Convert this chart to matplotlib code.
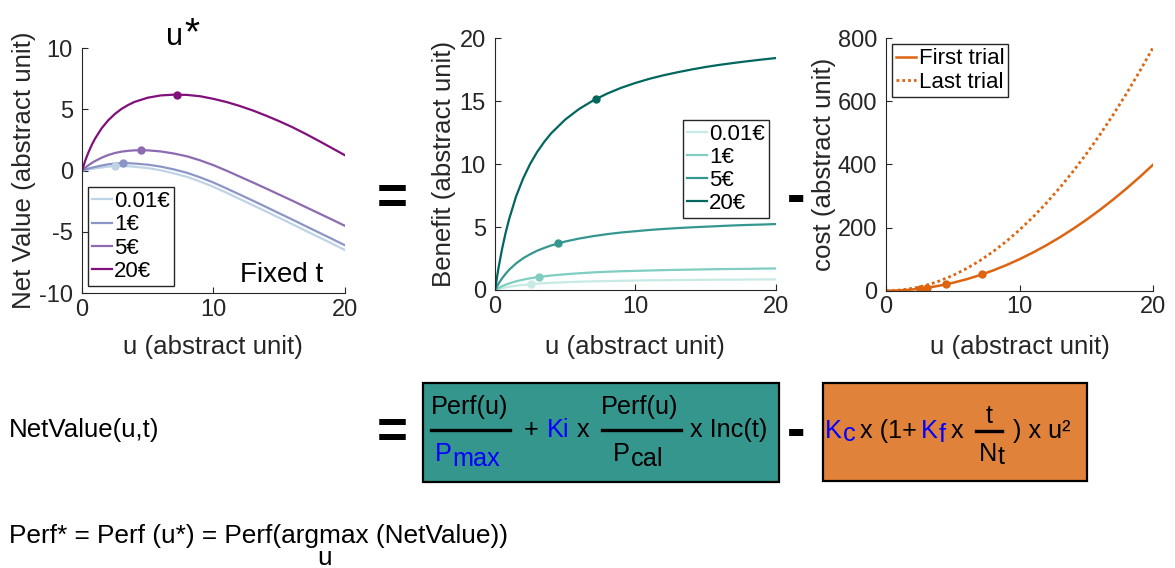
import matplotlib
matplotlib.use('Agg')
import matplotlib.pyplot as plt
from matplotlib.lines import Line2D
from matplotlib.patches import Rectangle

plt.rcParams['font.family'] = ['Liberation Sans', 'DejaVu Sans']
plt.rcParams['axes.unicode_minus'] = False

W, H = 1175, 568

# effort grid
u = [0, 0.25, 0.5, 0.75, 1, 1.5, 2, 2.5, 3, 3.5, 4, 5, 6, 7, 8, 9, 10,
     11, 12, 13, 14, 15, 16, 17, 18, 19, 20]
rewards = ['0.01€', '1€', '5€', '20€']

# net value, fixed t
net_001 = [0, 0.05, 0.10, 0.15, 0.19, 0.26, 0.33, 0.37, 0.37, 0.36, 0.32, 0.21, 0.03, -0.22, -0.51, -0.89, -1.32,
           -1.80, -2.31, -2.82, -3.33, -3.85, -4.37, -4.90, -5.42, -5.94, -6.48]
net_1 = [0, 0.09, 0.17, 0.24, 0.30, 0.42, 0.52, 0.58, 0.61, 0.61, 0.58, 0.49, 0.33, 0.10, -0.18, -0.55, -0.97,
         -1.45, -1.95, -2.45, -2.96, -3.48, -3.99, -4.52, -5.04, -5.56, -6.09]
net_5 = [0, 0.24, 0.45, 0.63, 0.79, 1.06, 1.28, 1.44, 1.55, 1.62, 1.66, 1.66, 1.57, 1.40, 1.17, 0.84, 0.45,
         0.00, -0.48, -0.96, -1.45, -1.95, -2.45, -2.96, -3.47, -3.98, -4.50]
net_20 = [0, 0.83, 1.52, 2.12, 2.63, 3.47, 4.12, 4.63, 5.04, 5.36, 5.62, 5.96, 6.15, 6.21, 6.19, 6.08, 5.87,
          5.61, 5.29, 4.92, 4.50, 4.05, 3.56, 3.02, 2.45, 1.86, 1.27]

# benefit
ben_001 = [0, 0.08, 0.15, 0.21, 0.26, 0.34, 0.40, 0.46, 0.50, 0.54, 0.57, 0.62, 0.66, 0.69, 0.71, 0.73, 0.75,
           0.77, 0.78, 0.79, 0.80, 0.81, 0.82, 0.82, 0.83, 0.84, 0.84]
ben_1 = [0, 0.16, 0.30, 0.42, 0.52, 0.69, 0.82, 0.93, 1.02, 1.09, 1.15, 1.25, 1.33, 1.40, 1.45, 1.49, 1.52,
         1.55, 1.58, 1.60, 1.62, 1.64, 1.66, 1.67, 1.68, 1.70, 1.71]
ben_5 = [0, 0.50, 0.92, 1.28, 1.60, 2.11, 2.52, 2.84, 3.12, 3.34, 3.54, 3.85, 4.09, 4.28, 4.44, 4.57, 4.67,
         4.77, 4.85, 4.92, 4.98, 5.03, 5.08, 5.13, 5.17, 5.20, 5.24]
ben_20 = [0, 1.76, 3.24, 4.51, 5.61, 7.43, 8.85, 10.01, 10.96, 11.76, 12.45, 13.54, 14.39, 15.06, 15.61, 16.07, 16.45,
          16.78, 17.06, 17.30, 17.52, 17.72, 17.89, 18.04, 18.18, 18.31, 18.43]

# cost
cost_first = [0, 0.06, 0.25, 0.56, 1, 2.25, 4, 6.25, 9, 12.25, 16, 25, 36, 49, 64, 81, 100,
              121, 144, 169, 196, 225, 256, 289, 324, 361, 400]
cost_last = [0, 0.12, 0.48, 1.09, 1.93, 4.34, 7.72, 12.06, 17.37, 23.64, 30.88, 48.25, 69.48, 94.57, 123.5, 156.3, 193.0,
             233.5, 277.9, 326.2, 378.3, 434.3, 494.1, 557.8, 625.3, 696.7, 772.0]

# optimum u* per reward
u_star = [2.54, 3.1, 4.5, 7.2]
net_star = [0.37, 0.61, 1.67, 6.21]
ben_star = [0.46, 1.03, 3.70, 15.18]
cost_star = [6.45, 9.61, 20.25, 51.84]

net_cols = ['#bfd3e6', '#8c96c6', '#8c6bb1', '#810f7c']
ben_cols = ['#c7eae5', '#80cdc1', '#35978f', '#01665e']
orange = '#dd6410'
grey = '#262626'


def px(x, y):
    return x / W, 1 - y / H


def style(ax, ylim, yticks):
    ax.set_xlim(0, 20)
    ax.set_ylim(*ylim)
    ax.set_xticks([0, 10, 20])
    ax.set_yticks(yticks)
    for s in ['top', 'right']:
        ax.spines[s].set_visible(False)
    for s in ['left', 'bottom']:
        ax.spines[s].set_color(grey)
        ax.spines[s].set_linewidth(0.8)
    ax.tick_params(direction='in', length=4, width=0.8, colors=grey, labelsize=17)
    ax.tick_params(axis='x', pad=4)
    ax.tick_params(axis='y', pad=6.5)


def legend(ax, **kw):
    lg = ax.legend(fontsize=16, handlelength=0.9, handletextpad=0.1, borderpad=0.18,
                   labelspacing=0.1, borderaxespad=0, fancybox=False, framealpha=1, **kw)
    lg.get_frame().set_edgecolor(grey)
    lg.get_frame().set_linewidth(1.0)
    return lg


fig = plt.figure(figsize=(W / 100, H / 100), dpi=100)

# net value panel
ax1 = fig.add_axes([82 / W, 1 - 293 / H, 262.7 / W, 244.7 / H])
for vals, c, lab in zip([net_001, net_1, net_5, net_20], net_cols, rewards):
    ax1.plot(u, vals, color=c, lw=1.6, label=lab)
for us, v, c in zip(u_star, net_star, net_cols):
    ax1.plot(us, v, 'o', color=c, ms=5)
style(ax1, (-10, 10), [-10, -5, 0, 5, 10])
ax1.set_xlabel('u (abstract unit)', fontsize=18.6, color=grey)
ax1.set_ylabel('Net Value (abstract unit)', fontsize=18.6, color=grey)
ax1.xaxis.set_label_coords(0.5, -0.172)
ax1.yaxis.set_label_coords((36 - 82) / 262.7, 0.5)
legend(ax1, loc='lower left', bbox_to_anchor=(0.022, 0.029))
ax1.text(0.601, 0.044, 'Fixed t', transform=ax1.transAxes, fontsize=20, va='baseline')

# benefit panel
ax2 = fig.add_axes([495 / W, 1 - 290 / H, 280.7 / W, 251.7 / H])
for vals, c, lab in zip([ben_001, ben_1, ben_5, ben_20], ben_cols, rewards):
    ax2.plot(u, vals, color=c, lw=1.6, label=lab)
for us, v, c in zip(u_star, ben_star, ben_cols):
    ax2.plot(us, v, 'o', color=c, ms=5)
style(ax2, (0, 20), [0, 5, 10, 15, 20])
ax2.set_xlabel('u (abstract unit)', fontsize=18.6, color=grey)
ax2.set_ylabel('Benefit (abstract unit)', fontsize=18.6, color=grey)
ax2.xaxis.set_label_coords(0.5, -0.179)
ax2.yaxis.set_label_coords((456 - 495) / 280.7, 0.5)
legend(ax2, loc='lower right', bbox_to_anchor=(0.976, 0.285))

# cost panel
ax3 = fig.add_axes([886 / W, 1 - 290.7 / H, 267.3 / W, 252.4 / H])
ax3.plot(u, cost_first, color=orange, lw=1.8, label='First trial')
ax3.plot(u, cost_last, color=orange, lw=2.0, ls=(0, (1, 1.1)), label='Last trial')
ax3.plot(u_star, cost_star, 'o', color=orange, ms=5)
style(ax3, (0, 800), [0, 200, 400, 600, 800])
ax3.set_xlabel('u (abstract unit)', fontsize=18.6, color=grey)
ax3.set_ylabel('cost (abstract unit)', fontsize=18.6, color=grey)
ax3.xaxis.set_label_coords(0.5, -0.1755)
ax3.yaxis.set_label_coords((836 - 886) / 267.3, 0.5)
legend(ax3, loc='upper left', bbox_to_anchor=(0.024, 0.976))

# title marker for the optimum
fig.text(*px(166, 45), 'u', fontsize=22, va='baseline')
fig.text(*px(184, 44.5), '*', fontsize=28, va='baseline')

# operators between panels and in the equation row
for y in [213, 447]:
    fig.text(*px(377, y), '=', fontsize=38, fontweight='bold', va='baseline')
    fig.text(*px(787, y), '-', fontsize=40, fontweight='bold', va='baseline')


def put(x, y, s, color='k', size=18.2):
    fig.text(*px(x, y), s, color=color, fontsize=size, va='baseline', ha='left')


def bar(x0, x1, y):
    fig.add_artist(Line2D([x0 / W, x1 / W], [1 - y / H] * 2, color='k', lw=2.4))


def box(x0, x1, y0, y1, fc):
    fig.add_artist(Rectangle(px(x0, y1), (x1 - x0) / W, (y1 - y0) / H,
                             facecolor=fc, edgecolor='k', lw=1.6))


put(9, 436.7, 'NetValue(u,t)', size=18.6)

# benefit term
box(422.7, 779, 383.3, 481.7, '#35968e')
put(430.7, 414, 'Perf(u)')
bar(430.7, 510, 430.3)
put(435, 460.7, 'P', 'blue')
put(452.5, 465.7, 'max', 'blue')
put(524, 436.7, '+')
put(547, 436.7, 'Ki', 'blue')
put(577, 436.7, 'x')
put(601, 414, 'Perf(u)')
bar(601.7, 680.7, 430.3)
put(613, 460.7, 'P')
put(630.5, 465.7, 'cal')
put(690, 436.7, 'x Inc(t)')

# cost term
box(823.3, 1087, 383.3, 481, '#e0823a')
put(825, 438, 'K', 'blue')
put(842.5, 441, 'c', 'blue')
put(860, 438, 'x (1+')
put(921, 438, 'K', 'blue')
put(938.5, 441.5, 'f', 'blue')
put(951, 438, 'x')
bar(976, 1001.7, 430.7)
put(985.5, 423.3, 't')
put(978.5, 461, 'N')
put(997.5, 464.5, 't')
put(1013, 438, ') x u²')

put(9, 543.3, 'Perf* = Perf (u*) = Perf(argmax (NetValue))', size=18.9)
put(317, 565, 'u', size=18.9)

fig.savefig('out.png', dpi=100)
